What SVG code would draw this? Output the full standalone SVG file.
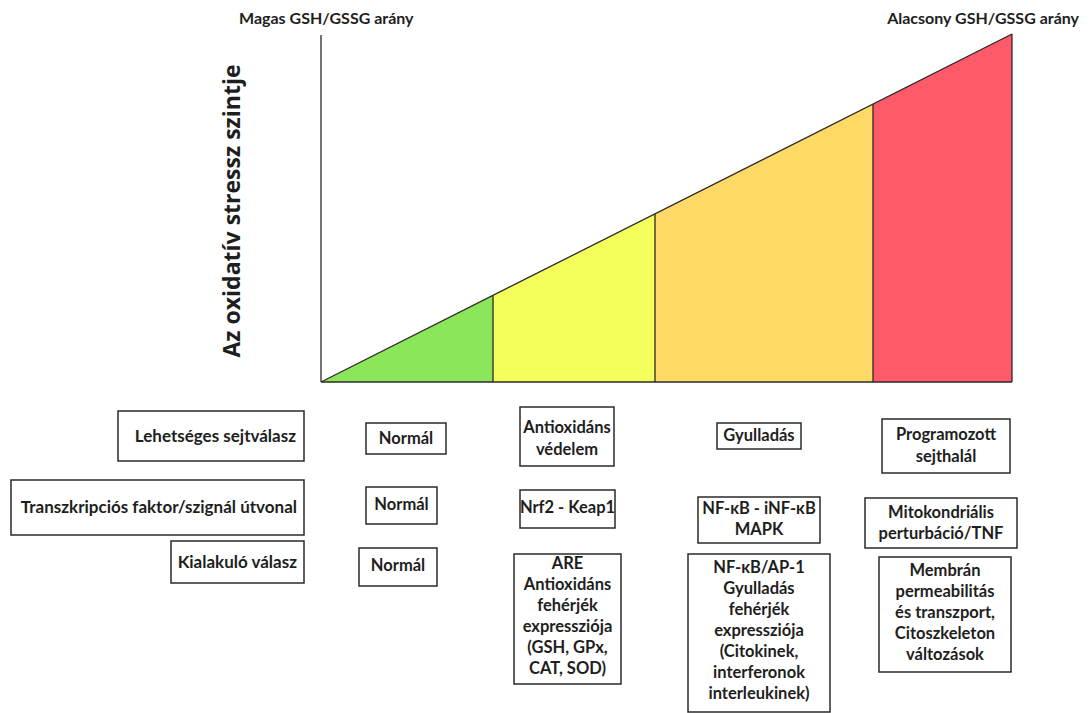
<svg xmlns="http://www.w3.org/2000/svg" width="1090" height="713" viewBox="0 0 1090 713">
<style>
text{font-family:Lato,"Liberation Sans",Arial,sans-serif;font-weight:bold;fill:#1e1e1e}
.lbl{font-size:17px;text-anchor:end}
.bx{font-size:16.5px;text-anchor:middle}
.top{font-size:16px}
.ax{font-family:"Open Sans","Liberation Sans",sans-serif;font-size:23px;text-anchor:middle}
rect.box{fill:#fff;stroke:#2a2a2a;stroke-width:1.5}
.div{stroke:#2a2a2a;stroke-width:1.3;fill:none}
</style>
<rect width="1090" height="713" fill="#fff"/>
<g id="chart">
<polygon points="321,382 493,382 493,295.4" fill="#8ce65a"/>
<polygon points="493,382 655,382 655,213.8 493,295.4" fill="#f5ff5c"/>
<polygon points="655,382 873,382 873,104 655,213.8" fill="#ffd966"/>
<polygon points="873,382 1012,382 1012,34 873,104" fill="#ff5a69"/>
<line class="div" x1="321" y1="382" x2="1012" y2="34"/>
<line class="div" x1="493" y1="295.4" x2="493" y2="382"/>
<line class="div" x1="655" y1="213.8" x2="655" y2="382"/>
<line class="div" x1="873" y1="104" x2="873" y2="382"/>
<line class="div" x1="1012" y1="34" x2="1012" y2="382"/>
<line class="div" x1="321" y1="35" x2="321" y2="382"/>
<line class="div" x1="321" y1="382" x2="1012" y2="382"/>
<text class="top" x="239" y="24">Magas GSH/GSSG arány</text>
<text class="top" x="1079" y="24" text-anchor="end">Alacsony GSH/GSSG arány</text>
<text class="ax" transform="translate(240,211) rotate(-90)">Az oxidatív stressz szintje</text>
</g>
<g id="connectors"/>
<g id="lbl-response"><rect class="box" x="118" y="411" width="186" height="50"/><text class="lbl" x="296" y="442">Lehetséges sejtválasz</text></g>
<g id="lbl-tf"><rect class="box" x="11" y="480" width="293" height="55"/><text class="lbl" x="297" y="513">Transzkripciós faktor/szignál útvonal</text></g>
<g id="lbl-emerging"><rect class="box" x="171" y="541" width="133" height="42"/><text class="lbl" x="297" y="568">Kialakuló válasz</text></g>

<g id="n1a"><rect class="box" x="366" y="423" width="80" height="31"/><text class="bx" x="406" y="444">Normál</text></g>
<g id="n1b"><rect class="box" x="366" y="487" width="71" height="37"/><text class="bx" x="401.5" y="510">Normál</text></g>
<g id="n1c"><rect class="box" x="359" y="548" width="78" height="38"/><text class="bx" x="398" y="571">Normál</text></g>

<g id="n2a"><rect class="box" x="520" y="407" width="94" height="59"/><text class="bx" x="567" y="433">Antioxidáns</text><text class="bx" x="567" y="455">védelem</text></g>
<g id="n2b"><rect class="box" x="520" y="490" width="95" height="38"/><text class="bx" x="567.5" y="513">Nrf2 - Keap1</text></g>
<g id="n2c"><rect class="box" x="514" y="554" width="107" height="130"/>
<text class="bx" x="567.5" y="569">ARE</text><text class="bx" x="567.5" y="590">Antioxidáns</text><text class="bx" x="567.5" y="611">fehérjék</text><text class="bx" x="567.5" y="632">expressziója</text><text class="bx" x="567.5" y="653">(GSH, GPx,</text><text class="bx" x="567.5" y="674">CAT, SOD)</text></g>

<g id="n3a"><rect class="box" x="717" y="423" width="84" height="26"/><text class="bx" x="759" y="441">Gyulladás</text></g>
<g id="n3b"><rect class="box" x="698" y="497" width="122" height="46"/><text class="bx" x="759" y="514">NF-κB - iNF-κB</text><text class="bx" x="759" y="535">MAPK</text></g>
<g id="n3c"><rect class="box" x="688" y="554" width="142" height="158"/>
<text class="bx" x="759" y="573">NF-κB/AP-1</text><text class="bx" x="759" y="594">Gyulladás</text><text class="bx" x="759" y="615">fehérjék</text><text class="bx" x="759" y="636">expressziója</text><text class="bx" x="759" y="657">(Citokinek,</text><text class="bx" x="759" y="678">interferonok</text><text class="bx" x="759" y="699">interleukinek)</text></g>

<g id="n4a"><rect class="box" x="882" y="419" width="128" height="54"/><text class="bx" x="946" y="440">Programozott</text><text class="bx" x="946" y="462">sejthalál</text></g>
<g id="n4b"><rect class="box" x="865" y="498" width="152" height="50"/><text class="bx" x="941" y="518">Mitokondriális</text><text class="bx" x="941" y="539">perturbáció/TNF</text></g>
<g id="n4c"><rect class="box" x="879" y="557" width="132" height="115"/>
<text class="bx" x="945" y="576">Membrán</text><text class="bx" x="945" y="597">permeabilitás</text><text class="bx" x="945" y="618">és transzport,</text><text class="bx" x="945" y="639">Citoszkeleton</text><text class="bx" x="945" y="660">változások</text></g>
</svg>
